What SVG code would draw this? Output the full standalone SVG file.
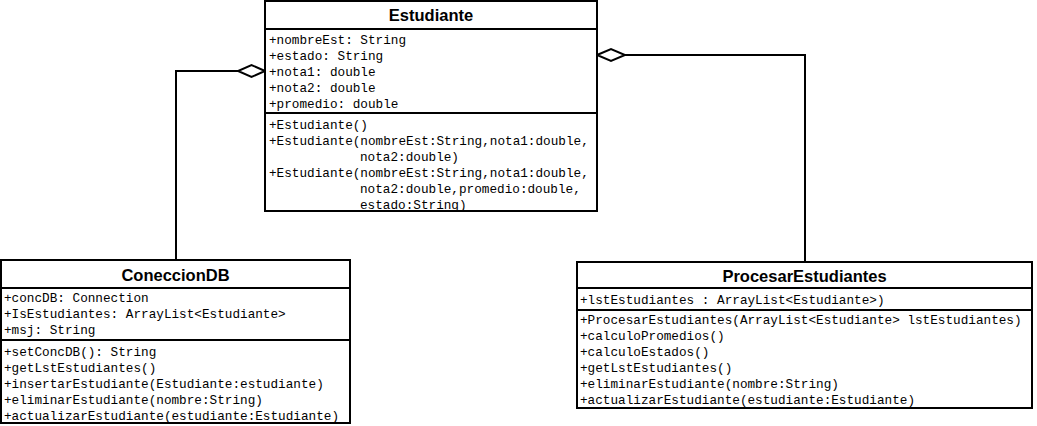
<svg xmlns="http://www.w3.org/2000/svg" width="1037" height="426" viewBox="0 0 1037 426">
<style>
.box{fill:#fff;stroke:#000;stroke-width:2}
.div{stroke:#000;stroke-width:2}
.t{font-family:"Liberation Sans",Arial,sans-serif;font-weight:bold;font-size:16.5px;text-anchor:middle;fill:#000}
.m{font-family:"Liberation Mono","Courier New",monospace;font-size:12.7px;fill:#000}
.c{fill:none;stroke:#000;stroke-width:2}
.d{fill:#fff;stroke:#000;stroke-width:2}
</style>
<rect width="1037" height="426" fill="#fff"/>
<g id="connectors">
<polyline class="c" points="176,260 176,71 238,71"/>
<polygon class="d" points="265,71 251.5,65 238,71 251.5,77"/>
<polyline class="c" points="625,55 805,55 805,262"/>
<polygon class="d" points="597,55 611,49 625,55 611,61"/>
</g>
<g id="Estudiante">
<rect class="box" x="265" y="1" width="332" height="210"/>
<line class="div" x1="265" y1="29" x2="597" y2="29"/>
<line class="div" x1="265" y1="113" x2="597" y2="113"/>
<text class="t" x="431" y="21">Estudiante</text>
<text class="m" x="269" y="44">+nombreEst: String</text>
<text class="m" x="269" y="60">+estado: String</text>
<text class="m" x="269" y="76">+nota1: double</text>
<text class="m" x="269" y="92">+nota2: double</text>
<text class="m" x="269" y="108">+promedio: double</text>
<text class="m" x="269" y="129">+Estudiante()</text>
<text class="m" x="269" y="145">+Estudiante(nombreEst:String,nota1:double,</text>
<text class="m" x="360" y="161">nota2:double)</text>
<text class="m" x="269" y="177">+Estudiante(nombreEst:String,nota1:double,</text>
<text class="m" x="360" y="193">nota2:double,promedio:double,</text>
<text class="m" x="360" y="209">estado:String)</text>
</g>
<g id="ConeccionDB">
<rect class="box" x="1" y="260" width="349" height="163"/>
<line class="div" x1="1" y1="288" x2="350" y2="288"/>
<line class="div" x1="1" y1="340" x2="350" y2="340"/>
<text class="t" x="175.5" y="281">ConeccionDB</text>
<text class="m" x="4" y="302">+concDB: Connection</text>
<text class="m" x="4" y="318">+IsEstudiantes: ArrayList&lt;Estudiante&gt;</text>
<text class="m" x="4" y="334">+msj: String</text>
<text class="m" x="4" y="356">+setConcDB(): String</text>
<text class="m" x="4" y="372">+getLstEstudiantes()</text>
<text class="m" x="4" y="388">+insertarEstudiante(Estudiante:estudiante)</text>
<text class="m" x="4" y="404">+eliminarEstudiante(nombre:String)</text>
<text class="m" x="4" y="420">+actualizarEstudiante(estudiante:Estudiante)</text>
</g>
<g id="ProcesarEstudiantes">
<rect class="box" x="577" y="262" width="455" height="146"/>
<line class="div" x1="577" y1="288" x2="1032" y2="288"/>
<line class="div" x1="577" y1="310" x2="1032" y2="310"/>
<text class="t" x="804.5" y="282">ProcesarEstudiantes</text>
<text class="m" x="580" y="304">+lstEstudiantes : ArrayList&lt;Estudiante&gt;)</text>
<text class="m" x="580" y="324">+ProcesarEstudiantes(ArrayList&lt;Estudiante&gt; lstEstudiantes)</text>
<text class="m" x="580" y="340">+calculoPromedios()</text>
<text class="m" x="580" y="356">+calculoEstados()</text>
<text class="m" x="580" y="372">+getLstEstudiantes()</text>
<text class="m" x="580" y="388">+eliminarEstudiante(nombre:String)</text>
<text class="m" x="580" y="404">+actualizarEstudiante(estudiante:Estudiante)</text>
</g>
</svg>
